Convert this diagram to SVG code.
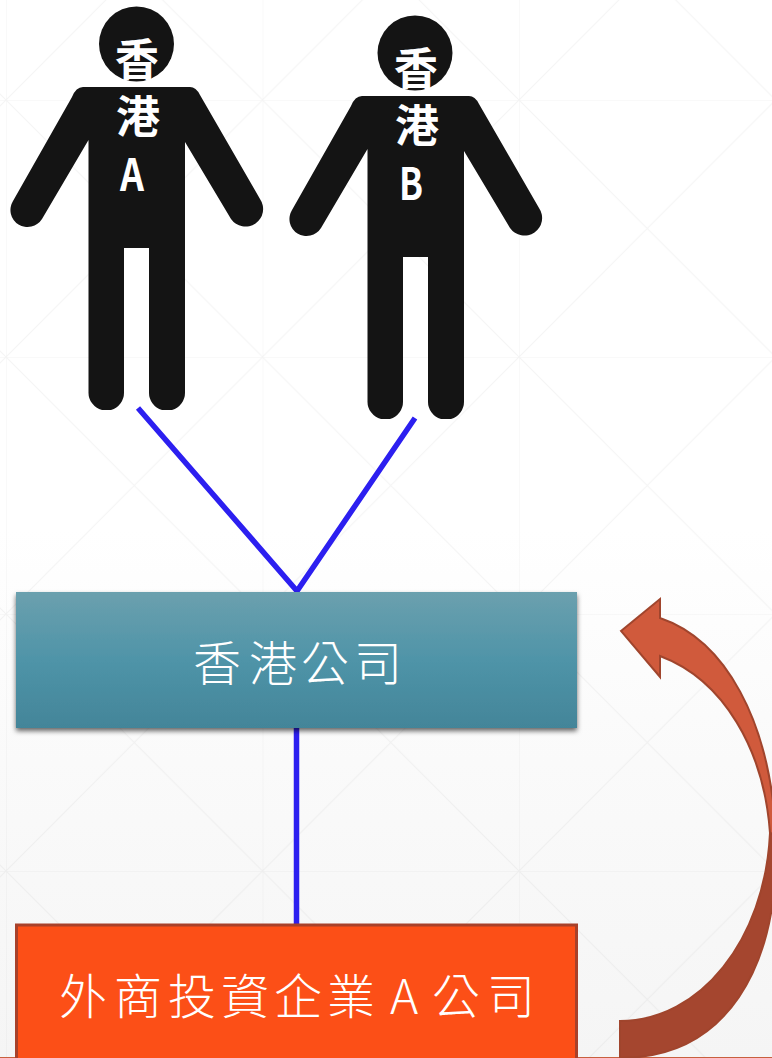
<svg xmlns="http://www.w3.org/2000/svg" width="772" height="1058" viewBox="0 0 772 1058">
<style>
.cjk{font-family:"Noto Sans CJK TC","Noto Sans CJK SC",sans-serif}
.fig{fill:#fff;font-weight:700;font-size:44px;text-anchor:middle}
.lbl{fill:#fff;font-weight:300;font-size:48px;text-anchor:middle}
.conn{stroke:#2c1ff0;stroke-width:5.5;fill:none}
.man{fill:#141414}
</style>
<defs>
<linearGradient id="bg" x1="0" y1="0" x2="0" y2="1"><stop offset="0.5" stop-color="#ffffff"/><stop offset="0.72" stop-color="#fafafa"/><stop offset="1" stop-color="#f5f5f5"/></linearGradient>
<linearGradient id="teal" x1="0" y1="0" x2="0" y2="1"><stop offset="0" stop-color="#6ba0ae"/><stop offset="0.5" stop-color="#4f94a8"/><stop offset="1" stop-color="#438599"/></linearGradient>
<pattern id="grid" width="256.5" height="257" patternUnits="userSpaceOnUse" patternTransform="translate(6 100)">
<path d="M0,0H256.5M0,0V257M0,0L256.5,257M256.5,0L0,257" fill="none" stroke="#8a8a8a" stroke-opacity="0.09" stroke-width="1"/>
</pattern>
<filter id="sh" x="-5%" y="-10%" width="110%" height="125%"><feDropShadow dx="0" dy="3" stdDeviation="2.5" flood-color="#000" flood-opacity="0.6"/></filter>
<path id="person" class="man" d="M83,87H190Q196,87 200,95L260,199A17,17 0 0 1 231,219L185,142V392A18,18 0 0 1 172,410H162A18,18 0 0 1 149,392V248H124V392A18,18 0 0 1 111,410H102A18,18 0 0 1 88.500,392V140L42,219A17,17 0 0 1 13,201L72,97Q76,87 83,87Z"/>
</defs>
<rect id="background" width="772" height="1058" fill="url(#bg)"/>
<rect width="772" height="1058" fill="url(#grid)"/>
<line x1="0" y1="1057.500" x2="772" y2="1057.500" stroke="#c8603f" stroke-width="1"/>

<g id="person-a">
<circle class="man" cx="136.500" cy="44" r="37.500"/>
<use href="#person"/>
<text class="cjk fig" x="137" y="76">香</text>
<text class="cjk fig" x="138" y="133">港</text>
<text class="cjk fig" x="132" y="191" font-size="46" textLength="24" lengthAdjust="spacingAndGlyphs">A</text>
</g>
<g id="person-b">
<circle class="man" cx="415" cy="53" r="37.500"/>
<use href="#person" x="279" y="9"/>
<text class="cjk fig" x="416" y="85">香</text>
<text class="cjk fig" x="417" y="142">港</text>
<text class="cjk fig" x="411" y="200" font-size="46" textLength="24" lengthAdjust="spacingAndGlyphs">B</text>
</g>

<g id="connectors">
<path class="conn" d="M138,408L297,591L415,418"/>
<line class="conn" x1="296.500" y1="727" x2="296.500" y2="925"/>
</g>

<g id="hk-company">
<rect x="16" y="592" width="561" height="136" fill="url(#teal)" filter="url(#sh)"/>
<text class="cjk lbl" x="217 273 325 378" y="681">香港公司</text>
</g>

<g id="fie-company">
<rect x="16.500" y="925" width="560" height="140" fill="#fc4f17" stroke="#a8412a" stroke-width="3"/>
<text class="cjk lbl" x="83 138 192 245 298 351 404 456 511" y="1014">外商投資企業A公司</text>
</g>

<g id="curved-arrow" stroke="#a0452d" stroke-width="2" stroke-linejoin="miter">
<path fill="#a5462f" d="M620,1021C700,1021 765,940 770,833L776,835C780,970 725,1058 620,1058Z"/>
<path fill="#d05a3c" d="M621,631L660,599V618C725,640 770,720 776,835L770,833C764,750 724,680 660,656V677Z"/>
</g>
</svg>
